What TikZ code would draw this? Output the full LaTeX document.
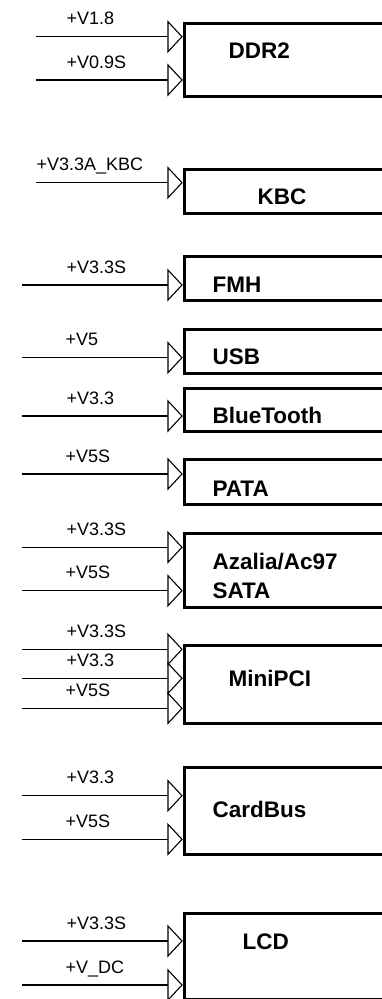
\documentclass[tikz,border=0pt]{standalone}
\usepackage{fontspec}
\setmainfont{Liberation Sans}
\usepackage{tikz}

\begin{document}
\begin{tikzpicture}[x=1pt, y=-1pt, line width=1.1pt,
    blockbox/.style={draw, line width=3pt, anchor=north west, inner sep=0pt, minimum width=240pt},
    pintri/.style={draw, fill=white, line width=1.1pt, line join=miter},
    railname/.style={anchor=base west, inner sep=0pt, font=\fontsize{18}{18}\selectfont},
    blockname/.style={anchor=base west, inner sep=0pt, align=left, font=\fontsize{22.5}{29}\selectfont\bfseries}]
  \useasboundingbox (0,0) rectangle (382,999);
  \clip (0,0) rectangle (382,999);
  % supply rails: y / start x / label x / rail name
  \foreach \y/\x/\lx/\v [count=\i] in {36.7/36/66/{+V1.8}, 80/36/66/{+V0.9S},
      182.7/36/36/{+V3.3A\_KBC}, 285/22/66/{+V3.3S}, 357.7/22/65/{+V5},
      416/22/66/{+V3.3}, 474/22/65/{+V5S}, 547.3/22/66/{+V3.3S}, 590.7/22/65/{+V5S},
      649.3/22/66/{+V3.3S}, 678.3/22/66/{+V3.3}, 708.3/22/65/{+V5S},
      795.7/22/66/{+V3.3}, 839.3/22/65/{+V5S}, 941/22/66/{+V3.3S}, 985/22/65/{+V\_DC}}{
    \coordinate (s\i) at (\x,\y);
    \coordinate (p\i) at (168,\y);
    \draw (s\i) -- (p\i);
    \draw[pintri] (p\i) -- ++(0,-15) -- ++(14,15) -- ++(-14,15) -- cycle;
    \node[railname] (v\i) at (\lx,\y-12) {\v};
  }
  % blocks (open to the right)
  \foreach \n/\t/\h in {ddr/22/73, kbc/168/44, fmh/255/44, usb/328/44, bt/387/43,
      pata/458/45, hda/532/74, mpci/644/78, cbus/766/87, lcd/912/86}{
    \node[blockbox, minimum height=\h pt] (\n) at (183,\t) {};
  }
  % block names
  \node[blockname] (tddr)  at (228,58.5)  {DDR2};
  \node[blockname] (tkbc)  at (257,204.3) {KBC};
  \node[blockname] (tfmh)  at (212,292.7) {FMH};
  \node[blockname] (tusb)  at (212,364.3) {USB};
  \node[blockname] (tbt)   at (212,423.3) {BlueTooth};
  \node[blockname] (tpata) at (212,496.5) {PATA};
  \node[blockname] (thda)  at (212,598.3) {Azalia/Ac97\\SATA};
  \node[blockname] (tmpci) at (228,686.7) {MiniPCI};
  \node[blockname] (tcbus) at (212,817.3) {CardBus};
  \node[blockname] (tlcd)  at (242,949)   {LCD};
\end{tikzpicture}
\end{document}
